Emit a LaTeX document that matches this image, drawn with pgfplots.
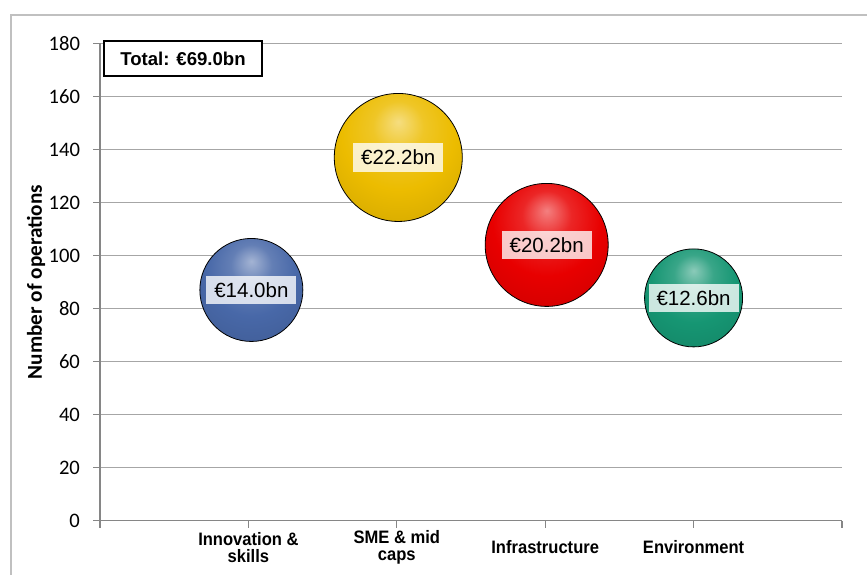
\documentclass[border=0pt]{standalone}
\usepackage{pgfplots}
\pgfplotsset{compat=1.18}
\usepackage{fontspec}
\setmainfont{Liberation Sans}
\newfontfamily\calibri{Carlito}
\newfontfamily\narrowbold[FakeStretch=0.92]{Liberation Sans Bold}

\definecolor{gridgray}{RGB}{166,166,166}
\definecolor{axisgray}{RGB}{134,134,134}
\definecolor{framegray}{RGB}{192,192,192}
\definecolor{bubB}{RGB}{72,104,168}
\definecolor{bubY}{RGB}{236,188,0}
\definecolor{bubR}{RGB}{232,0,0}
\definecolor{bubG}{RGB}{22,150,115}

% glossy sphere, highlight near the top like excel's bubbles
\newcommand\declareball[2]{%
  \pgfdeclareradialshading{sh#1}{\pgfqpoint{0bp}{14bp}}{%
    color(0bp)=(#2!50!white); color(10bp)=(#2!85!white); color(22bp)=(#2);
    color(44bp)=(#2!85!black); color(58bp)=(#2!50!black); color(68bp)=(#2!20!black)}%
  \pgfdeclareplotmark{ball#1}{\shade[shading=sh#1] (0pt,0pt) circle[radius=\pgfplotmarksize];}}
\declareball{B}{bubB}
\declareball{Y}{bubY}
\declareball{R}{bubR}
\declareball{G}{bubG}

\pgfplotsset{
  bubblelabel/.style={
    every node near coord/.style={anchor=center, fill=white, fill opacity=0.78,
      text opacity=1, text=black, font=\fontsize{10.25}{12}\selectfont,
      inner xsep=4pt, inner ysep=3.5pt, text height=7.4pt, text depth=0pt}},
}

\begin{document}
\begin{tikzpicture}[x=1pt,y=1pt]
\useasboundingbox (0,0) rectangle (433.5,287);
\draw[framegray, line width=0.75pt] (5.5,-5) -- (5.5,279.5) -- (440,279.5);
\begin{axis}[
  at={(50pt,26.75pt)}, anchor=south west,
  width=371pt, height=238.5pt, scale only axis,
  xmin=0, xmax=5, ymin=0, ymax=180,
  xtick={0,1,2,3,4,5},
  xticklabels={,Innovation \&\\skills,SME \& mid\\caps,Infrastructure,Environment,},
  ytick={0,20,...,180},
  axis lines=left, axis line style={-, axisgray, line width=0.6pt},
  tick style={axisgray, line width=0.6pt},
  tick align=outside, major tick length=3.5pt,
  ymajorgrids, grid style={gridgray, line width=0.5pt},
  clip=false,
  /pgf/number format/assume math mode=true,
  yticklabel style={font=\calibri\fontsize{10.3}{10}\selectfont, xshift=-3pt},
  xticklabel style={font=\narrowbold\fontsize{9}{8.5}\selectfont, align=center,
    anchor=center, yshift=-10pt},
  ylabel={Number of operations},
  ylabel style={at={(axis description cs:0,0.5)}, anchor=center, rotate=0, yshift=32pt,
    font=\calibri\bfseries\fontsize{10.6}{12}\selectfont},
]
\addplot[only marks, mark=ballB, mark size=25.75pt, nodes near coords={€14.0bn}, bubblelabel]
  coordinates {(1.02,87)};
\addplot[only marks, mark=ballY, mark size=32pt, nodes near coords={€22.2bn}, bubblelabel]
  coordinates {(2.01,137)};
\addplot[only marks, mark=ballR, mark size=30.75pt, nodes near coords={€20.2bn}, bubblelabel]
  coordinates {(3.01,104)};
\addplot[only marks, mark=ballG, mark size=24.5pt, nodes near coords={€12.6bn}, bubblelabel]
  coordinates {(4.0,84)};
\end{axis}
\node[draw=black, fill=white, line width=1pt, minimum width=79pt, minimum height=17.5pt,
  inner sep=0pt, font=\bfseries\fontsize{9.3}{11}\selectfont] at (91.5,257.75) {Total: €69.0bn};
\end{tikzpicture}
\end{document}
